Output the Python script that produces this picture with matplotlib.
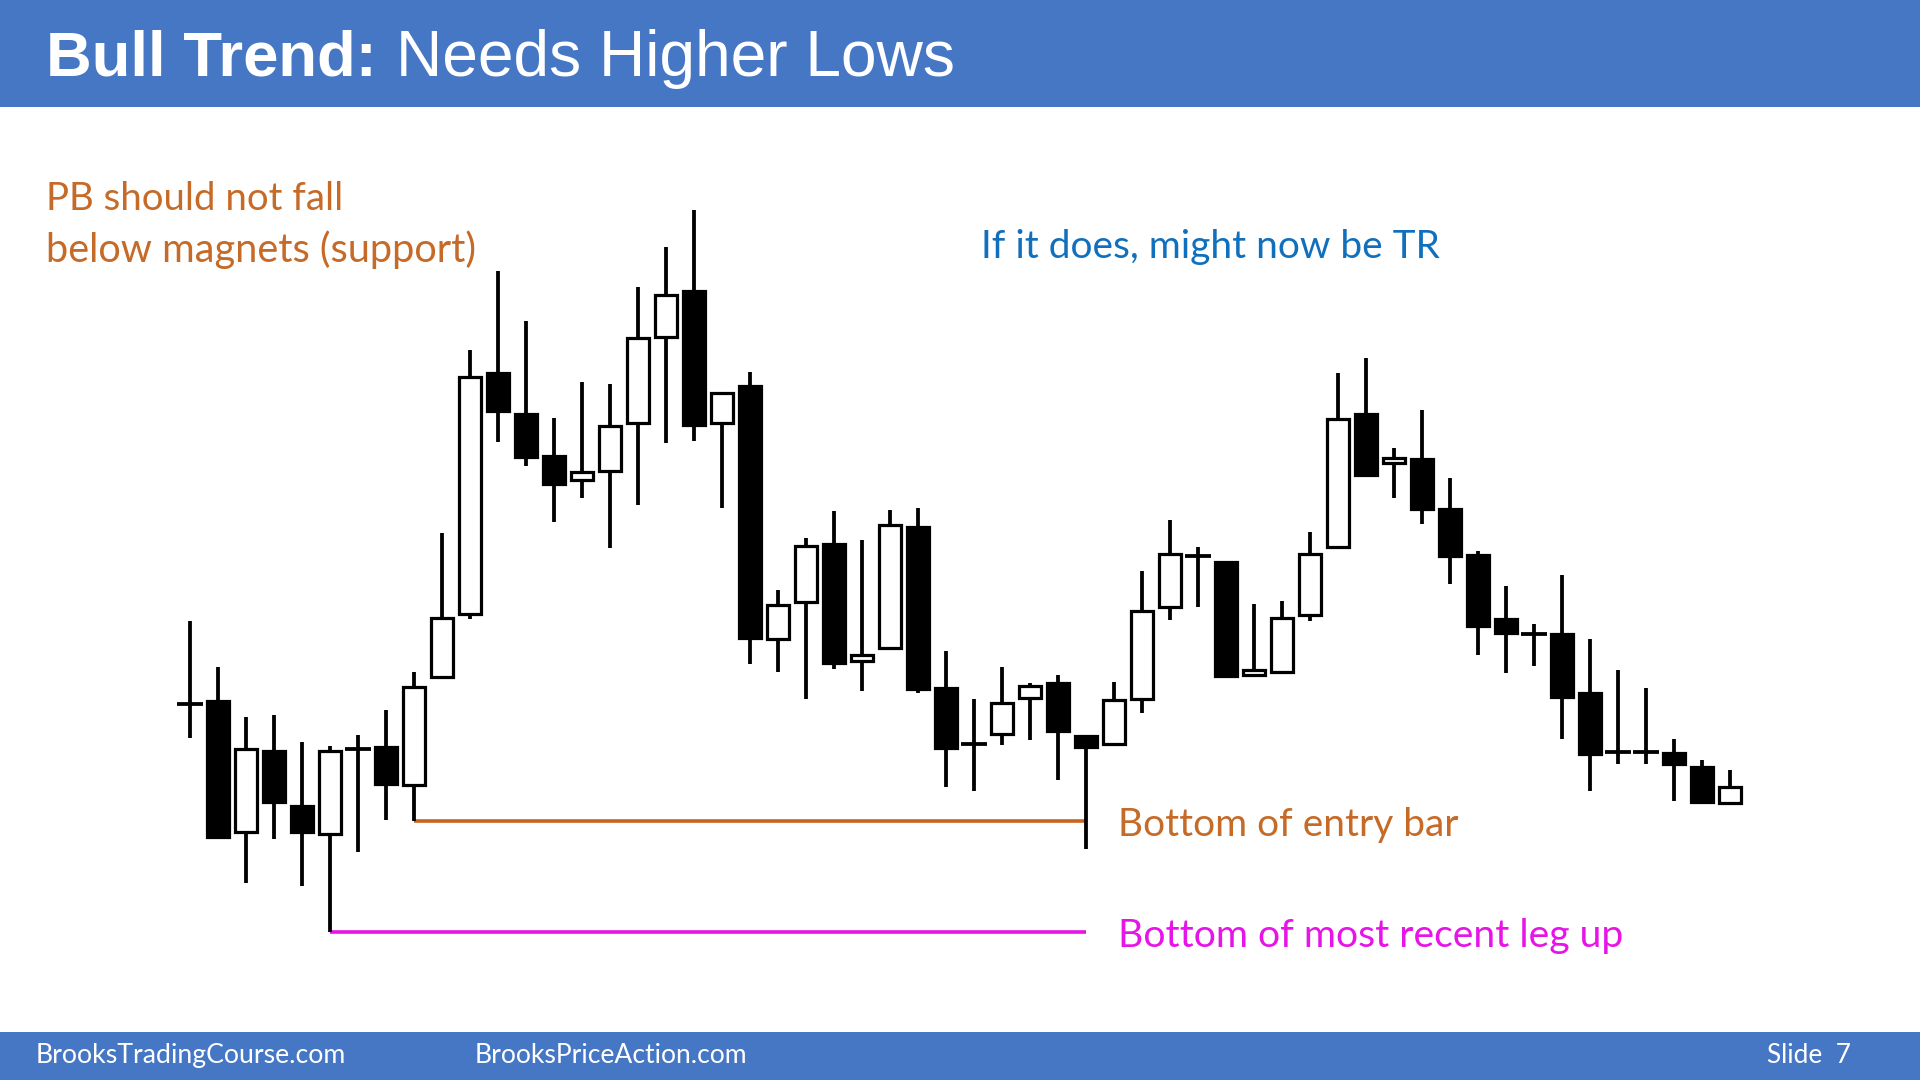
import matplotlib
matplotlib.use("Agg")
import matplotlib.pyplot as plt
from matplotlib.patches import Rectangle

# ---------------- data (price units) ----------------
opens = [29.6, 29.9, 16.8, 24.9, 19.4, 16.6, 25.1, 25.3, 21.5, 32.3,
         38.6, 62.7, 58.6, 54.4, 52.0, 52.9, 57.7, 66.3, 70.9, 57.7,
         61.4, 36.1, 39.8, 45.6, 33.9, 35.2, 47.3, 31.2, 25.6, 26.6,
         30.2, 31.7, 26.4, 25.6, 30.1, 39.3, 44.4, 43.8, 32.5, 32.8,
         38.5, 45.3, 58.6, 53.7, 54.1, 49.1, 44.5, 38.1, 36.6, 36.6,
         30.7, 24.8, 24.8, 24.7, 23.3, 19.7]
highs = [37.9, 33.3, 28.3, 28.5, 25.8, 25.4, 26.5, 29.0, 32.8, 46.7,
         65.0, 72.9, 67.9, 58.2, 61.8, 61.6, 71.3, 75.3, 79.0, 60.7,
         62.8, 41.0, 46.2, 48.9, 46.0, 49.0, 49.2, 34.9, 30.1, 33.3,
         31.7, 32.5, 26.4, 31.8, 42.9, 48.0, 45.3, 43.8, 39.6, 39.9,
         46.8, 62.7, 64.2, 55.2, 59.0, 52.2, 44.9, 41.4, 37.6, 42.5,
         36.1, 33.0, 31.2, 26.1, 24.0, 23.0]
lows = [26.2, 16.1, 11.7, 16.1, 11.4, 6.8, 14.8, 18.0, 17.9, 32.3,
        38.1, 55.8, 53.4, 47.8, 50.2, 45.2, 49.5, 55.7, 55.9, 49.2,
        33.6, 32.8, 30.1, 33.1, 30.9, 35.2, 30.7, 21.3, 20.9, 25.5,
        26.0, 22.0, 15.1, 25.4, 28.7, 38.0, 39.3, 32.4, 32.4, 32.6,
        37.9, 45.1, 52.3, 50.2, 47.6, 41.6, 34.5, 32.7, 33.4, 26.1,
        20.9, 23.6, 23.6, 19.9, 19.7, 19.5]
closes = [29.6, 16.3, 25.1, 19.8, 16.8, 24.9, 25.1, 21.6, 31.3, 38.2,
          62.3, 58.9, 54.3, 51.6, 52.8, 57.4, 66.2, 70.5, 57.5, 60.7,
          36.2, 39.5, 45.4, 33.7, 34.5, 47.5, 31.1, 25.2, 25.6, 29.7,
          31.4, 26.9, 25.3, 30.0, 38.9, 44.6, 44.4, 32.4, 33.0, 38.2,
          44.6, 58.1, 52.5, 54.2, 49.1, 44.4, 37.4, 36.7, 36.6, 30.3,
          24.6, 24.8, 24.8, 23.6, 19.8, 21.3]

entry_bar = 8        # bar whose low is "Bottom of entry bar"
leg_bar = 5          # bar whose low is "Bottom of most recent leg up"
line_end_bar = 32    # both support lines run to this bar

title_bold = "Bull Trend:"
title_rest = "Needs Higher Lows"
note_left = ["PB should not fall", "below magnets (support)"]
note_blue = "If it does, might now be TR"
label_entry = "Bottom of entry bar"
label_leg = "Bottom of most recent leg up"
footer_left = "BrooksTradingCourse.com"
footer_mid = "BrooksPriceAction.com"
footer_right = "Slide  7"

# ---------------- styling ----------------
W, H = 1920, 1080
HEADER_BLUE = "#4677C4"
ORANGE = "#C66A28"
MAGENTA = "#E614E6"
TEXT_BLUE = "#1170BD"
CAL = ["Lato", "DejaVu Sans"]
ARIAL = ["Liberation Sans", "DejaVu Sans"]

fig = plt.figure(figsize=(W / 100, H / 100), dpi=100)
fig.patch.set_facecolor("white")
renderer = fig.canvas.get_renderer()

# header / footer bands
fig.patches.append(Rectangle((0, 1 - 107 / H), 1, 107 / H, transform=fig.transFigure,
                             facecolor=HEADER_BLUE, edgecolor="none", zorder=0))
fig.patches.append(Rectangle((0, 0), 1, 48 / H, transform=fig.transFigure,
                             facecolor=HEADER_BLUE, edgecolor="none", zorder=0))

# chart axes: bar i centred at pixel 190 + 28 i ; price p at pixel y = 1000 - 10 p
ax_left, ax_w = 176 / W, 1568 / W
ax = fig.add_axes([ax_left, 80 / H, ax_w, 850 / H])
ax.set_xlim(-0.5, len(opens) - 0.5)
ax.set_ylim(0, 85)
ax.axis("off")

px = 1.0 * 72 / 100  # points per pixel
body_w = 0.80
tick_w = 0.90
for i, (o, h, l, c) in enumerate(zip(opens, highs, lows, closes)):
    ax.vlines(i, l, h, color="black", lw=3.8 * px, zorder=2)
    lo, hi = min(o, c), max(o, c)
    if hi - lo < 0.05:
        ax.hlines(o, i - tick_w / 2, i + tick_w / 2, color="black", lw=3.8 * px, zorder=3)
        continue
    bear = c < o
    ax.add_patch(Rectangle((i - body_w / 2, lo), body_w, hi - lo,
                           facecolor="black" if bear else "white",
                           edgecolor="black", lw=3.2 * px, zorder=3))

# support lines
ax.hlines(lows[entry_bar], entry_bar, line_end_bar, color="#C8641E", lw=3.6 * px, zorder=1)
ax.hlines(lows[leg_bar], leg_bar, line_end_bar, color=MAGENTA, lw=3.6 * px, zorder=1)


def fit_text(x_px, y_px, s, width_px, **kw):
    t = fig.text(x_px / W, 1 - y_px / H, s, fontsize=20, va="baseline", ha="left", **kw)
    bb = t.get_window_extent(renderer)
    t.set_fontsize(20 * width_px / bb.width)
    return t


# title
fit_text(46, 76, title_bold, 330, color="white", family=ARIAL, fontweight="bold")
fit_text(396, 76, title_rest, 557, color="white", family=ARIAL)

# annotations
fit_text(46, 210, note_left[0], 297, color=ORANGE, family=CAL)
fit_text(46, 262, note_left[1], 431, color=ORANGE, family=CAL)
fit_text(981, 258, note_blue, 459, color=TEXT_BLUE, family=CAL)
fit_text(1118, 836, label_entry, 341, color=ORANGE, family=CAL)
fit_text(1118, 947, label_leg, 506, color=MAGENTA, family=CAL)

# footer
fit_text(36, 1063, footer_left, 310, color="white", family=CAL)
fit_text(475, 1063, footer_mid, 273, color="white", family=CAL)
fit_text(1767, 1063, footer_right, 84, color="white", family=CAL)

fig.savefig("out.png", dpi=100, facecolor="white")
